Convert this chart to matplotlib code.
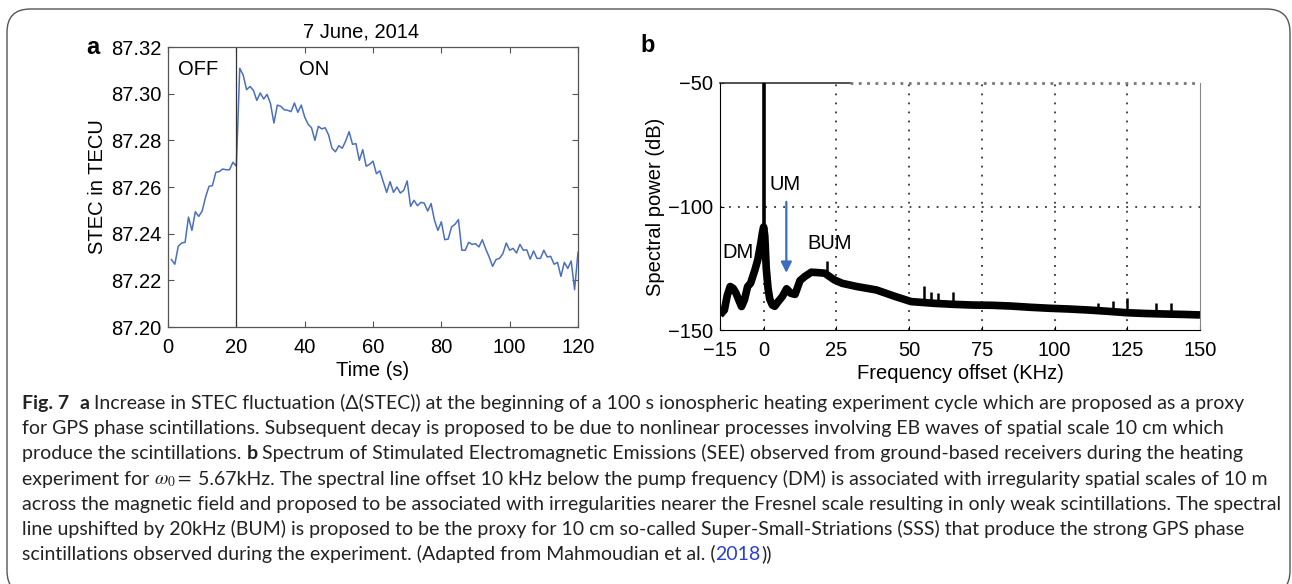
import numpy as np
import matplotlib
matplotlib.use("Agg")
import matplotlib.pyplot as plt
from matplotlib.patches import FancyBboxPatch

W, H = 1292, 584

# (a) STEC during the heating cycle, one sample per second
time_s = np.arange(1, 121)
stec = [87.2289, 87.2269, 87.2346, 87.2360, 87.2363, 87.2471, 87.2414, 87.2494, 87.2474, 87.2497,
        87.2557, 87.2603, 87.2606, 87.2663, 87.2666, 87.2677, 87.2674, 87.2674, 87.2706, 87.2689,
        87.3109, 87.3080, 87.3017, 87.3031, 87.3014, 87.2971, 87.3003, 87.2977, 87.2997, 87.2957,
        87.2874, 87.2951, 87.2946, 87.2931, 87.2929, 87.2923, 87.2960, 87.2920, 87.2951, 87.2900,
        87.2869, 87.2854, 87.2800, 87.2860, 87.2849, 87.2854, 87.2823, 87.2766, 87.2751, 87.2777,
        87.2766, 87.2797, 87.2837, 87.2783, 87.2786, 87.2714, 87.2760, 87.2689, 87.2697, 87.2711,
        87.2657, 87.2669, 87.2623, 87.2577, 87.2623, 87.2577, 87.2600, 87.2574, 87.2586, 87.2626,
        87.2517, 87.2543, 87.2520, 87.2534, 87.2531, 87.2497, 87.2529, 87.2457, 87.2414, 87.2451,
        87.2374, 87.2377, 87.2429, 87.2440, 87.2460, 87.2329, 87.2329, 87.2363, 87.2354, 87.2357,
        87.2343, 87.2374, 87.2334, 87.2300, 87.2260, 87.2289, 87.2294, 87.2314, 87.2360, 87.2329,
        87.2337, 87.2317, 87.2354, 87.2329, 87.2331, 87.2291, 87.2326, 87.2294, 87.2294, 87.2329,
        87.2300, 87.2303, 87.2269, 87.2277, 87.2217, 87.2277, 87.2251, 87.2283, 87.2160, 87.2320]
heater_on = 20

# (b) SEE spectrum
freq_khz = [-15.0, -13.5, -12.5, -11.5, -10.5, -9.5, -8.5, -7.6, -6.6, -5.5,
            -4.5, -3.0, -2.0, -1.0, -0.4, 0.0, 0.4, 0.9, 1.5, 2.1,
            3.0, 3.8, 5.0, 6.4, 7.9, 9.3, 10.8, 12.5, 14.2, 16.4,
            19.0, 21.0, 24.3, 27.0, 32.0, 38.8, 45.4, 50.7, 58.6, 65.0,
            71.9, 78.5, 85.0, 91.6, 98.2, 104.9, 111.5, 118.0, 124.8, 131.0,
            137.0, 144.5, 150.0]
power_db = [-143.9, -141.9, -136.0, -132.4, -133.1, -135.1, -138.0, -140.5, -137.8, -132.4,
            -131.1, -125.7, -121.5, -115.0, -110.5, -108.3, -112.0, -125.0, -133.0, -137.5,
            -139.9, -140.4, -138.5, -136.5, -133.3, -135.1, -135.6, -130.0, -128.3, -126.6,
            -126.8, -127.0, -129.7, -131.1, -132.4, -133.8, -136.5, -138.5, -139.2, -139.6,
            -139.9, -140.0, -140.3, -140.8, -141.2, -141.5, -141.9, -142.4, -143.0, -143.3,
            -143.5, -143.7, -143.9]
spike_khz = [21.7, 55.0, 57.5, 60.0, 65.0, 115.0, 120.0, 125.0, 135.0, 140.0]
spike_db = [-122.0, -132.2, -134.5, -134.9, -134.5, -139.2, -138.1, -137.2, -138.9, -138.9]
pump_khz, pump_db = 0.0, -50.0
um_khz, um_from, um_to = 7.8, -97.0, -128.0

plt.rcParams['font.family'] = ['Liberation Sans', 'DejaVu Sans']
plt.rcParams['mathtext.fontset'] = 'stix'

fig = plt.figure(figsize=(W / 100, H / 100), dpi=100)

def px_axes(l, t, r, b):
    return fig.add_axes([l / W, 1 - b / H, (r - l) / W, (b - t) / H])

# rounded frame around the figure
fig.patches.append(FancyBboxPatch((7 / W, -10 / H), 1283 / W, (H - 9 + 10) / H,
                                  boxstyle="round,pad=0,rounding_size=0.018",
                                  transform=fig.transFigure, fill=False,
                                  ec='#555555', lw=1.0, mutation_aspect=W / H))

# ---- panel a
ax1 = px_axes(168, 47, 578, 327)
ax1.plot(time_s, stec, color='#4a6fbf', lw=1.1)
ax1.axvline(heater_on, color='#333333', lw=0.9)
ax1.set_xlim(0, 120)
ax1.set_ylim(87.20, 87.32)
ax1.set_xticks(np.arange(0, 121, 20))
ax1.set_yticks(np.arange(87.20, 87.321, 0.02))
ax1.yaxis.set_major_formatter(matplotlib.ticker.FormatStrFormatter('%.2f'))
ax1.tick_params(direction='in', top=True, right=True, length=4, labelsize=14.5,
                width=0.8, color='#555555')
ax1.tick_params(axis='x', pad=8)
ax1.tick_params(axis='y', pad=5)
for s in ax1.spines.values():
    s.set_color('#555555')
    s.set_linewidth(0.9)
ax1.set_xlabel('Time (s)', fontsize=14.5, labelpad=3)
ax1.set_ylabel('STEC in TECU', fontsize=14.5, labelpad=3)
ax1.text(0.47, 1.02, '7 June, 2014', transform=ax1.transAxes, ha='center', va='bottom', fontsize=14.5)
ax1.text(0.025, 0.92, 'OFF', transform=ax1.transAxes, ha='left', va='center', fontsize=14.5)
ax1.text(0.32, 0.92, 'ON', transform=ax1.transAxes, ha='left', va='center', fontsize=14.5)
fig.text(93 / W, 1 - 47 / H, 'a', fontsize=17, fontweight='bold', ha='center', va='center')

# ---- panel b
ax2 = px_axes(720, 83, 1200, 330)
ax2.set_xlim(-15, 150)
ax2.set_ylim(-150, -50)
ax2.set_xticks([-15, 0, 25, 50, 75, 100, 125, 150])
ax2.set_yticks([-150, -100, -50])
ax2.set_yticklabels(['\u2212150', '\u2212100', '\u221250'])
ax2.set_xticklabels(['\u221215', '0', '25', '50', '75', '100', '125', '150'])
for gx in [0, 25, 50, 75, 100, 125]:
    ax2.axvline(gx, color='#333333', ls=(0, (1, 4)), lw=1.3, zorder=1)
ax2.axhline(-100, color='#333333', ls=(0, (1, 4)), lw=1.3, zorder=1)
ax2.tick_params(direction='in', length=3, labelsize=14.5, width=0.8)
ax2.tick_params(axis='x', pad=8)
ax2.tick_params(axis='y', pad=5)
ax2.spines['top'].set_visible(False)
ax2.spines['right'].set_color('#888888')
ax2.plot([0, 0.27], [1, 1], transform=ax2.transAxes, color='#333333', lw=1.2, clip_on=False)
ax2.plot([0.27, 1], [1, 1], transform=ax2.transAxes, color='#777777', ls=(0, (1, 2)), lw=2, clip_on=False)

ax2.plot(freq_khz, power_db, color='black', lw=5.5, solid_capstyle='butt', zorder=3)
ax2.vlines(pump_khz, np.interp(pump_khz, freq_khz, power_db), pump_db, color='black', lw=2.6, zorder=4)
base = np.interp(spike_khz, freq_khz, power_db)
ax2.vlines(spike_khz, base, spike_db, color='black', lw=1.8, zorder=4)
ax2.annotate('', xy=(um_khz, um_to), xytext=(um_khz, um_from),
             arrowprops=dict(arrowstyle='-|>', color='#3a6cc0', lw=1.6, mutation_scale=16))
ax2.text(um_khz - 0.5, -91, 'UM', ha='center', va='center', fontsize=14.5)
ax2.text(-8.7, -118.6, 'DM', ha='center', va='center', fontsize=14.5)
ax2.text(22.8, -115.0, 'BUM', ha='center', va='center', fontsize=14.5)
ax2.set_xlabel('Frequency offset (KHz)', fontsize=14.5, labelpad=3)
ax2.set_ylabel('Spectral power (dB)', fontsize=14.5, labelpad=2)
fig.text(648 / W, 1 - 45 / H, 'b', fontsize=17, fontweight='bold', ha='center', va='center')

# ---- caption, drawn piece by piece so bold / coloured words sit inline
cap_font = ['Lato', 'DejaVu Sans']
renderer = fig.canvas.get_renderer()

longest = ("across the magnetic field and proposed to be associated with irregularities nearer the "
           "Fresnel scale resulting in only weak scintillations. The spectral")
probe = fig.text(0, 0, longest, fontsize=12, family=cap_font)
cap_size = 12 * 1253 / probe.get_window_extent(renderer).width
probe.remove()

probe = fig.text(0, 0, 'a a', fontsize=cap_size, family=cap_font)
w1 = probe.get_window_extent(renderer).width
probe.set_text('aa')
space_w = w1 - probe.get_window_extent(renderer).width
probe.remove()

B = dict(fontweight='bold')
caption = [
    [('Fig. 7', B, 0), ('a', B, 2), ('Increase in STEC fluctuation (\u0394(STEC)) at the beginning of a 100 s '
                                     'ionospheric heating experiment cycle which are proposed as a proxy', {}, 1)],
    [('for GPS phase scintillations. Subsequent decay is proposed to be due to nonlinear processes involving '
      'EB waves of spatial scale 10 cm which', {}, 0)],
    [('produce the scintillations.', {}, 0), ('b', B, 1),
     ('Spectrum of Stimulated Electromagnetic Emissions (SEE) observed from ground-based receivers during the heating', {}, 1)],
    [('experiment for', {}, 0), (r'$\omega_0 =$', {}, 1),
     ('5.67kHz. The spectral line offset 10 kHz below the pump frequency (DM) is associated with irregularity '
      'spatial scales of 10 m', {}, 1)],
    [(longest, {}, 0)],
    [('line upshifted by 20kHz (BUM) is proposed to be the proxy for 10 cm so-called Super-Small-Striations (SSS) '
      'that produce the strong GPS phase', {}, 0)],
    [('scintillations observed during the experiment. (Adapted from Mahmoudian et al. (', {}, 0),
     ('2018', dict(color='#2b3fd6'), 0), ('))', {}, 0)],
]

for i, line in enumerate(caption):
    x = 22
    y = 409 + 25.2 * i
    for txt, kw, gap in line:
        x += gap * space_w
        t = fig.text(x / W, 1 - y / H, txt, ha='left', va='baseline', fontsize=cap_size,
                     family=cap_font, color=kw.get('color', '#222222'),
                     fontweight=kw.get('fontweight', 'normal'))
        x = t.get_window_extent(renderer).x1

fig.savefig('out.png', dpi=100)
